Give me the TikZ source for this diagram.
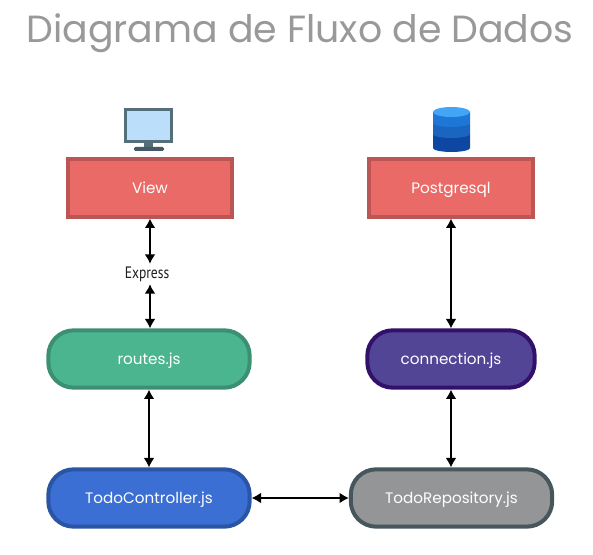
\documentclass[tikz,border=0pt]{standalone}
\usepackage{fontspec}
\setmainfont{Poppins}
\newfontfamily\expressfont[FakeStretch=0.82]{PT Sans}
\usetikzlibrary{arrows.meta}
\definecolor{titlegray}{HTML}{999999}
\definecolor{redfill}{HTML}{E96A66}
\definecolor{redline}{HTML}{BC5654}
\definecolor{greenfill}{HTML}{4AB58F}
\definecolor{greenline}{HTML}{3C8F73}
\definecolor{purplefill}{HTML}{524595}
\definecolor{purpleline}{HTML}{33106A}
\definecolor{bluefill}{HTML}{3B6FD3}
\definecolor{blueline}{HTML}{2A55A5}
\definecolor{grayfill}{HTML}{949596}
\definecolor{grayline}{HTML}{47555D}
\definecolor{screenframe}{HTML}{546E7A}
\definecolor{screenglass}{HTML}{BBDEFB}
\definecolor{screenbase}{HTML}{455A64}
\definecolor{dbtop}{HTML}{42A5F5}
\definecolor{dbupper}{HTML}{1E76D6}
\definecolor{dbmiddle}{HTML}{1965C0}
\definecolor{dblower}{HTML}{0D47A1}
\tikzset{
    boxtext/.style={text=white,font=\fontsize{11.4pt}{13pt}\selectfont,text height=9pt,text depth=1pt},
    redbox/.style={boxtext,draw=redline,fill=redfill,line width=3pt,minimum width=122.5pt,minimum height=43pt},
    pillbox/.style={boxtext,line width=3pt,rounded corners=19pt,minimum height=43pt},
    link/.style={{Latex[length=7pt,width=8pt]}-{Latex[length=7pt,width=8pt]},line width=1pt,black}
}
\begin{document}
\begin{tikzpicture}[x=0.75pt,y=-0.75pt]
    \useasboundingbox (0,0) rectangle (593,555);
    \node[text=titlegray,font=\fontsize{28.4pt}{32pt}\selectfont] (title) at (300,33) {Diagrama de Fluxo de Dados};
    % monitor
    \fill[screenframe] (124,108) rectangle (173,143);
    \fill[screenglass] (127,111) rectangle (170,140);
    \fill[screenframe] (144,143) rectangle (153,147);
    \fill[screenbase,rounded corners=1pt] (134,147) rectangle (164,151);
    % database
    \fill[dblower] (433,134) -- (433,148) arc[start angle=180,end angle=0,x radius=18.5,y radius=4] -- (470,134) -- cycle;
    \fill[dbmiddle] (433,123) -- (433,134) arc[start angle=180,end angle=0,x radius=18.5,y radius=4] -- (470,123) -- cycle;
    \fill[dbupper] (433,112) -- (433,123) arc[start angle=180,end angle=0,x radius=18.5,y radius=4] -- (470,112) -- cycle;
    \fill[dbtop] (451.5,112) ellipse[x radius=18.5,y radius=5];
    % boxes
    \node[redbox] (view) at (150,188) {View};
    \node[redbox] (postgresql) at (451,188) {Postgresql};
    \node[pillbox,draw=greenline,fill=greenfill,minimum width=151pt] (routes) at (149,359) {routes.js};
    \node[pillbox,draw=purpleline,fill=purplefill,minimum width=125.5pt] (connection) at (451,359) {connection.js};
    \node[pillbox,draw=blueline,fill=bluefill,minimum width=151pt] (controller) at (149,498) {TodoController.js};
    \node[pillbox,draw=grayline,fill=grayfill,minimum width=151pt] (repository) at (451.5,498) {TodoRepository.js};
    \node[inner sep=0pt,minimum height=15pt,font=\expressfont\fontsize{12.4pt}{14pt}\selectfont,text={rgb,255:red,30;green,30;blue,30}] (express) at (147,274) {Express};
    % links
    \draw[link] (view.south) -- (view.south |- express.north);
    \draw[link] (view.south |- express.south) -- (view.south |- routes.north);
    \draw[link] (routes.south) -- (controller.north);
    \draw[link] (postgresql.south) -- (connection.north);
    \draw[link] (connection.south) -- (connection.south |- repository.north);
    \draw[link] (controller.east) -- (repository.west);
\end{tikzpicture}
\end{document}
